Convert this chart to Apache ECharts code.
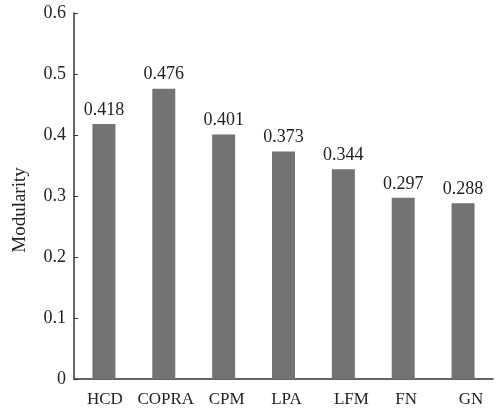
<!DOCTYPE html>
<html>
<head>
<meta charset="utf-8">
<script src="https://cdn.jsdelivr.net/npm/echarts@6/dist/echarts.min.js"></script>
<style>
  html, body { margin: 0; padding: 0; background: #fff; }
  #chart { width: 504px; height: 411px; }
</style>
</head>
<body>
<div id="chart"></div>
<script>
// Community detection methods and their modularity scores
const methods = ['HCD', 'COPRA', 'CPM', 'LPA', 'LFM', 'FN', 'GN'];
const modularity = [0.418, 0.476, 0.401, 0.373, 0.344, 0.297, 0.288];
const yTicks = [0, 0.1, 0.2, 0.3, 0.4, 0.5, 0.6];

// small horizontal nudges (px) for the category labels
const labelNudge = [1, 2, 3, 3, 8, 3, 8];

const serif = '"Liberation Serif", "DejaVu Serif", serif';
const chart = echarts.init(document.getElementById('chart'));

chart.setOption({
  animation: false,
  backgroundColor: '#ffffff',
  grid: { left: 74, right: 11, top: 13, bottom: 32 },
  xAxis: {
    type: 'category',
    data: methods.map((m, i) => ({
      value: m,
      textStyle: { padding: [0, 0, 0, labelNudge[i] * 2] }
    })),
    axisLine: { lineStyle: { color: '#333', width: 1.5 } },
    axisTick: { show: false },
    axisLabel: {
      interval: 0, hideOverlap: false,
      color: '#222', fontFamily: serif, fontSize: 17, margin: 12
    }
  },
  yAxis: {
    type: 'value',
    min: yTicks[0],
    max: yTicks[yTicks.length - 1],
    interval: 0.1,
    name: 'Modularity',
    nameLocation: 'middle',
    nameGap: 44,
    nameTextStyle: { color: '#222', fontFamily: serif, fontSize: 19, padding: [0, 0, 0, -28] },
    splitLine: { show: false },
    axisLine: { show: true, lineStyle: { color: '#333', width: 1.5 } },
    axisTick: { show: true, inside: true, length: 4, lineStyle: { color: '#333' } },
    axisLabel: {
      color: '#222', fontFamily: serif, fontSize: 18, margin: 8,
      formatter: v => (v === 0 ? '0' : v.toFixed(1))
    }
  },
  series: [{
    type: 'bar',
    data: modularity,
    barWidth: 23,
    itemStyle: { color: '#737373' },
    label: {
      show: true,
      position: 'top',
      distance: 5,
      color: '#222',
      fontFamily: serif,
      fontSize: 18,
      formatter: p => p.value.toFixed(3)
    }
  }]
});
</script>
</body>
</html>
